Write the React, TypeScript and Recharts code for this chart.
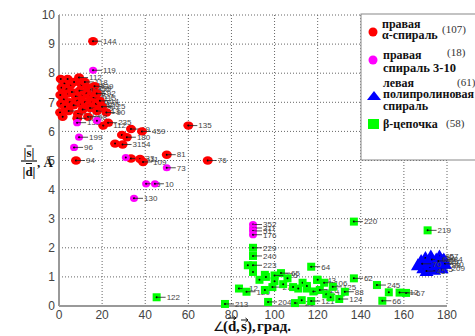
import React from 'react';
import { ScatterChart, Scatter, XAxis, YAxis, CartesianGrid } from 'recharts';

type Pt = [number, number, string];

const xTicks = [0, 20, 40, 60, 80, 100, 120, 140, 160, 180];
const yTicks = [0, 1, 2, 3, 4, 5, 6, 7, 8, 9, 10];

// right alpha-helix (red)
const redPoints: Pt[] = [
  [0.8, 7.8, ''], [2.5, 7.65, ''], [4, 7.8, ''], [1.2, 7.5, ''], [3.5, 7.45, ''],
  [5.5, 7.6, '117'], [7, 7.7, ''], [9.3, 7.85, '112'], [10.5, 7.6, '148'], [12, 7.7, '118'],
  [13.5, 7.5, '139'], [15, 7.45, '52'], [16.5, 7.55, '39'], [0.6, 7.25, ''], [2.2, 7.1, ''],
  [4.2, 7.3, '121'], [6, 7.35, '88'], [7.8, 7.2, '101'], [9.5, 7.4, '116'], [11, 7.25, '157'],
  [12.8, 7.3, '16'], [14.5, 7.2, '127'], [16, 7.15, '115'], [17.5, 7.3, '92'], [1, 6.95, ''],
  [3, 6.85, ''], [5, 7.0, '104'], [6.8, 6.9, '141'], [8.5, 7.05, '111'], [10.2, 6.95, '14'],
  [12, 7.0, '120'], [13.8, 6.9, '108'], [15.5, 7.0, '17'], [17.2, 6.95, '126'], [19, 7.05, '14'],
  [0.5, 6.65, ''], [2.8, 6.85, ''], [4.5, 6.7, '97'], [8.8, 6.6, '102'], [11, 6.75, '122'],
  [14.4, 6.8, '129'], [17.6, 6.7, '113'], [20, 6.85, '125'], [22, 6.65, '90'], [1.7, 6.5, ''],
  [13.5, 6.5, '98'], [8.5, 6.45, '105'],
  [15.8, 9.1, '144'],
  [20.5, 6.2, '112'], [22.8, 6.3, '235'], [33.4, 6.08, '19'], [38.5, 6.0, '459'],
  [29.2, 5.88, ''], [31.5, 5.8, '180'], [26, 5.58, ''], [29.5, 5.55, '3154'],
  [33.4, 5.07, '133'], [37.6, 5.05, '11'], [39, 4.95, '109'], [7.9, 5.0, '94'],
  [60, 6.2, '135'], [50, 5.2, '81'], [69, 5.0, '76'],
];

// right 3-10 helix (magenta)
const magentaPoints: Pt[] = [
  [15.8, 8.1, '119'], [8.4, 6.3, '132'], [17.6, 6.37, ''], [9.3, 5.8, '199'], [7, 5.45, '96'],
  [31, 5.1, ''], [50, 4.75, '73'], [40.4, 4.2, '5'], [44.5, 4.2, '10'], [34.8, 3.7, '130'],
  [90, 2.8, '352'], [90, 2.68, '311'], [90, 2.58, '51'], [90, 2.45, '176'],
];

// left polyproline helix (blue)
const bluePoints: Pt[] = [
  [166.5, 1.4, '31'], [168, 1.55, '73'], [169, 1.3, '28'], [170, 1.65, '86'], [171, 1.45, '33'],
  [172, 1.35, '47'], [172.5, 1.7, '206'], [173.5, 1.5, '95'], [174, 1.25, '45'], [175, 1.6, '99'],
  [175.5, 1.4, '183'], [176.5, 1.7, '57'], [177, 1.5, '77'], [177.5, 1.3, '209'], [178.5, 1.6, '84'],
  [179, 1.45, '40'], [170.5, 1.2, '45'], [173, 1.6, '62'], [176, 1.55, '91'], [168.5, 1.45, '70'],
];

// beta strand (green)
const greenPoints: Pt[] = [
  [45.3, 0.3, '122'], [77, 0.07, '213'], [90, 2.0, '229'], [90, 1.72, '240'], [87.6, 1.4, ''],
  [90, 1.4, '223'], [90, 1.17, ''], [95.5, 1.07, ''], [103, 1.13, '65'], [100, 1.05, '225'],
  [83.5, 0.6, '12'], [87, 0.49, '120'], [95.5, 0.55, ''], [99, 0.65, '27'], [97, 0.14, '204'],
  [93, 0.9, ''], [96, 1.0, ''], [100, 0.85, ''], [104, 0.75, ''], [106, 0.95, ''],
  [108.6, 0.65, ''], [111, 0.6, ''], [113, 0.8, ''], [115, 0.6, ''], [117, 1.35, '64'],
  [109.5, 0.1, '21'], [112.6, 0.2, ''], [117, 0.17, '121'], [118, 0.5, '24'], [119.7, 0.9, '43'],
  [120, 0.9, ''], [121, 0.55, '26'], [123, 0.8, '106'], [124, 0.4, '14'], [126, 0.3, ''],
  [127, 0.66, '125'], [115, 0.69, ''], [130, 0.24, '124'], [132.6, 0.49, '88'],
  [136.8, 2.9, '220'], [171, 2.6, '219'], [136.8, 0.95, '62'], [147.5, 0.72, '245'],
  [153, 0.47, ''], [161, 0.45, '67'], [158, 0.46, '12'], [150, 0.18, '66'],
];

const COLORS = { red: '#ff0000', magenta: '#ff00ff', blue: '#0000ff', green: '#00ff00' };

const makeShape = (kind: 'red' | 'magenta' | 'blue' | 'green') => (props: any) => {
  const { cx, cy, payload } = props;
  const label: string = payload && payload.label ? payload.label : '';
  let mark: React.ReactNode = null;
  if (kind === 'red') mark = <ellipse cx={cx} cy={cy} rx={5} ry={4.2} fill={COLORS.red} />;
  else if (kind === 'magenta') mark = <ellipse cx={cx} cy={cy} rx={4} ry={3.6} fill={COLORS.magenta} />;
  else if (kind === 'green') mark = <rect x={cx - 4} y={cy - 4} width={8} height={8} fill={COLORS.green} />;
  else mark = <polygon points={`${cx - 7},${cy + 5} ${cx},${cy - 7} ${cx + 7},${cy + 5}`} fill={COLORS.blue} />;
  return (
    <g>
      {mark}
      <circle cx={cx} cy={cy} r={1} fill="#000" />
      {label ? <line x1={cx} y1={cy} x2={cx + 9} y2={cy} stroke="#222" strokeWidth={0.8} /> : null}
      {label ? (
        <text x={cx + 10} y={cy} dy="0.35em" fontSize={8} fill="#444" fontFamily="Liberation Sans, Arial, sans-serif">
          {label}
        </text>
      ) : null}
    </g>
  );
};

const toData = (pts: Pt[]) => pts.map(([x, y, label]) => ({ x, y, label }));

const serif = 'Liberation Serif, Times New Roman, serif';

const VecArrow = ({ x1, x2, y }: { x1: number; x2: number; y: number }) => (
  <g stroke="#111" strokeWidth={1} fill="none">
    <line x1={x1} y1={y} x2={x2} y2={y} />
    <polyline points={`${x2 - 2.5},${y - 2} ${x2},${y} ${x2 - 2.5},${y + 2}`} />
  </g>
);

export default function App() {
  return (
    <div style={{ position: 'absolute', left: 0, top: 0, width: 475, height: 336, overflow: 'hidden', background: '#fff' }}>
      <ScatterChart width={475} height={336} margin={{ top: 15, right: 28, bottom: 0, left: 0 }}>
        <CartesianGrid stroke="#666" strokeDasharray="1 2" strokeWidth={1} />
        <XAxis
          type="number"
          dataKey="x"
          domain={[0, 180]}
          ticks={xTicks}
          height={30}
          tickSize={0}
          tickMargin={4}
          axisLine={{ stroke: '#999', strokeWidth: 2 }}
          tick={{ fontSize: 12, fill: '#444', fontFamily: 'Liberation Sans, Arial, sans-serif' }}
        />
        <YAxis
          type="number"
          dataKey="y"
          domain={[0, 10]}
          ticks={yTicks}
          width={59}
          tickSize={0}
          tickMargin={4}
          axisLine={{ stroke: '#999', strokeWidth: 2 }}
          tick={{ fontSize: 12, fill: '#444', fontFamily: 'Liberation Sans, Arial, sans-serif' }}
        />
        <Scatter data={toData(greenPoints)} shape={makeShape('green')} isAnimationActive={false} />
        <Scatter data={toData(bluePoints)} shape={makeShape('blue')} isAnimationActive={false} />
        <Scatter data={toData(redPoints)} shape={makeShape('red')} isAnimationActive={false} />
        <Scatter data={toData(magentaPoints)} shape={makeShape('magenta')} isAnimationActive={false} />
      </ScatterChart>
      <svg width={475} height={336} style={{ position: 'absolute', left: 0, top: 0, pointerEvents: 'none' }}>
        {/* legend box */}
        <rect x={361} y={14} width={130} height={146} fill="#fff" stroke="#888" strokeWidth={1} />
        <g fontFamily={serif} fontWeight="bold" fontSize={12} fill="#111">
          <circle cx={373} cy={32} r={4.5} fill={COLORS.red} />
          <text x={382} y={28}>правая</text>
          <text x={382} y={39}>α-спираль</text>
          <circle cx={373} cy={60} r={4.5} fill={COLORS.magenta} />
          <text x={383} y={59}>правая</text>
          <text x={383} y={72} fontSize={12.5}>спираль 3-10</text>
          <polygon points="367,100 374,91 381,100" fill={COLORS.blue} />
          <text x={383} y={87}>левая</text>
          <text x={383} y={98}>полипролиновая</text>
          <text x={383} y={110}>спираль</text>
          <rect x={368} y={119} width={11} height={10} fill={COLORS.green} />
          <text x={383} y={128}>β-цепочка</text>
        </g>
        <g fontFamily={serif} fontSize={11} fill="#333">
          <text x={442} y={33}>(107)</text>
          <text x={447} y={56}>(18)</text>
          <text x={457} y={86}>(61)</text>
          <text x={446} y={127}>(58)</text>
        </g>
        {/* y label */}
        <g fontFamily={serif} fontWeight="bold" fontSize={13} fill="#111">
          <text x={29} y={157} textAnchor="middle">|s|</text>
          <line x1={26.5} y1={146} x2={31.5} y2={146} stroke="#111" strokeWidth={1} />
          <line x1={21} y1={161} x2={37} y2={161} stroke="#111" strokeWidth={1.2} />
          <text x={29} y={176} textAnchor="middle">|d|</text>
          <line x1={26} y1={163.5} x2={32} y2={163.5} stroke="#111" strokeWidth={1} />
          <text x={37} y={167}>, Å</text>
        </g>
        {/* x label */}
        <g fontFamily={serif} fontWeight="bold" fontSize={15} fill="#111">
          <text x={213} y={331} fontFamily="DejaVu Sans, sans-serif" fontWeight="normal" fontSize={13}>∠</text>
          <text x={223} y={331}>(</text>
          <text x={228} y={331}>d</text>
          <text x={236} y={331}>,</text>
          <text x={241} y={331}>s</text>
          <text x={247} y={331}>)</text>
          <text x={252} y={331}>,</text>
          <text x={257} y={331}>град.</text>
        </g>
        <VecArrow x1={228} x2={236} y={318} />
        <VecArrow x1={241} x2={248} y={320} />
      </svg>
    </div>
  );
}
